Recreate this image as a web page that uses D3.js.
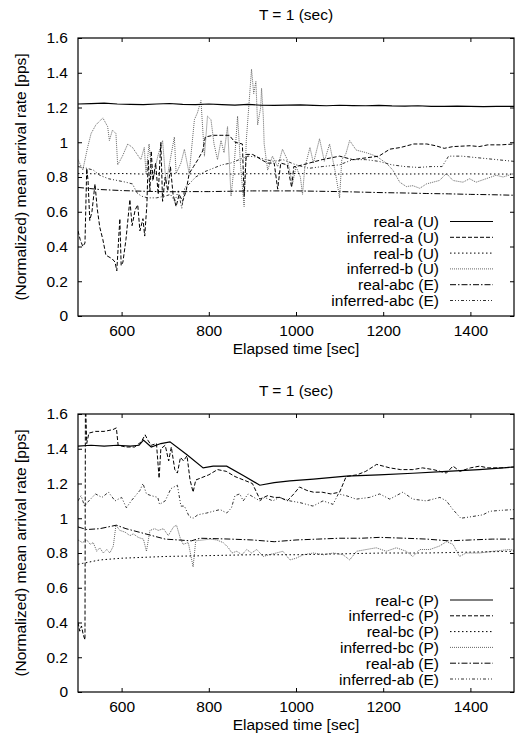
<!DOCTYPE html>
<html>
<head>
<meta charset="utf-8">
<script src="https://cdn.jsdelivr.net/npm/d3@7"></script>
<style>
  body { margin: 0; background: #fff; }
  text { font-family: "Liberation Sans", Arial, sans-serif; font-size: 15.5px; fill: #000; }
</style>
</head>
<body>
<script>
// ---- data (time [sec], normalized rate) ----
var xTicks = [600, 800, 1000, 1200, 1400];
var yTicks = [0, 0.2, 0.4, 0.6, 0.8, 1, 1.2, 1.4, 1.6];
var titleText = "T = 1 (sec)";
var xTitle = "Elapsed time [sec]";
var yTitle = "(Normalized) mean arrival rate [pps]";

var topNames = ["real-a (U)", "inferred-a (U)", "real-b (U)", "inferred-b (U)", "real-abc (E)", "inferred-abc (E)"];
var bottomNames = ["real-c (P)", "inferred-c (P)", "real-bc (P)", "inferred-bc (P)", "real-ab (E)", "inferred-ab (E)"];

var realA = [[500,1.22],[530,1.222],[560,1.225],[590,1.22],[620,1.218],[650,1.216],[680,1.22],[710,1.223],[740,1.218],[770,1.216],[800,1.22],[830,1.217],[860,1.214],[890,1.218],[920,1.213],[950,1.212],[980,1.214],[1010,1.215],[1040,1.212],[1070,1.21],[1100,1.213],[1130,1.211],[1160,1.21],[1190,1.212],[1220,1.209],[1250,1.208],[1280,1.21],[1310,1.207],[1340,1.206],[1370,1.208],[1400,1.207],[1430,1.205],[1460,1.207],[1500,1.206]];

var inferredA = [[500,0.49],[505,0.44],[511,0.40],[516,0.42],[520,0.85],[523,0.78],[527,0.55],[532,0.6],[539,0.76],[544,0.62],[550,0.51],[557,0.44],[564,0.35],[571,0.34],[578,0.33],[585,0.31],[589,0.26],[592,0.39],[596,0.56],[599,0.29],[603,0.31],[610,0.44],[619,0.67],[624,0.52],[631,0.61],[637,0.64],[642,0.49],[649,0.56],[653,0.46],[658,0.64],[661,0.9],[665,0.72],[668,0.95],[672,0.78],[678,0.88],[684,0.7],[690,1.0],[694,0.66],[700,0.8],[706,0.72],[712,0.86],[718,0.7],[725,0.63],[732,0.7],[740,0.66],[748,0.72],[755,0.82],[765,0.86],[775,0.9],[786,0.95],[792,1.03],[810,1.04],[830,1.04],[847,1.04],[860,1.0],[877,0.99],[881,0.69],[886,0.93],[900,0.93],[908,0.92],[920,0.9],[935,0.88],[950,0.88],[958,0.73],[965,0.88],[980,0.87],[990,0.74],[995,0.86],[1000,0.86],[1030,0.88],[1060,0.9],[1100,0.92],[1130,0.9],[1160,0.91],[1190,0.92],[1215,0.96],[1240,0.97],[1270,0.99],[1300,0.99],[1320,0.98],[1340,0.965],[1360,0.975],[1400,0.98],[1420,0.975],[1440,0.985],[1470,0.985],[1500,0.99]];

var realB = [[500,0.82],[550,0.818],[600,0.82],[650,0.817],[700,0.82],[750,0.818],[800,0.82],[850,0.817],[900,0.819],[950,0.818],[1000,0.82],[1050,0.818],[1100,0.817],[1150,0.819],[1200,0.818],[1250,0.817],[1300,0.818],[1350,0.817],[1400,0.818],[1450,0.817],[1500,0.817]];

var inferredB = [[500,0.9],[511,0.84],[522,0.97],[530,1.05],[541,1.10],[553,1.13],[557,1.14],[568,1.09],[572,1.01],[579,1.07],[587,1.05],[591,0.87],[602,0.92],[614,0.99],[625,0.97],[633,0.94],[644,0.90],[652,0.97],[656,0.82],[663,0.99],[671,0.78],[683,0.92],[694,1.01],[702,0.76],[713,0.92],[721,1.03],[725,0.82],[736,0.88],[744,0.96],[755,0.82],[767,1.13],[774,1.17],[782,1.24],[790,0.92],[797,1.15],[805,1.13],[812,0.99],[820,0.90],[828,1.01],[835,0.94],[843,1.09],[851,0.69],[858,0.86],[866,1.15],[873,0.86],[881,0.63],[886,1.01],[898,1.42],[903,1.28],[908,1.35],[912,1.1],[919,1.2],[921,1.31],[925,1.15],[927,0.99],[935,0.84],[946,0.92],[958,0.86],[969,0.96],[980,0.90],[992,0.76],[1000,0.86],[1010,0.8],[1015,0.7],[1020,0.85],[1032,0.97],[1040,0.88],[1054,1.02],[1065,0.89],[1077,0.99],[1090,0.83],[1100,0.68],[1105,0.9],[1114,0.93],[1123,1.01],[1138,0.955],[1161,0.94],[1184,0.92],[1207,0.88],[1222,0.84],[1238,0.77],[1253,0.745],[1268,0.75],[1284,0.735],[1299,0.76],[1314,0.77],[1329,0.78],[1345,0.82],[1360,0.78],[1383,0.77],[1398,0.79],[1413,0.77],[1436,0.79],[1459,0.81],[1475,0.8],[1500,0.82]];

var realABC = [[500,0.74],[550,0.728],[600,0.722],[650,0.718],[700,0.715],[750,0.716],[800,0.716],[850,0.718],[900,0.72],[950,0.72],[1000,0.72],[1050,0.718],[1100,0.716],[1150,0.713],[1200,0.71],[1250,0.708],[1300,0.705],[1350,0.703],[1400,0.70],[1450,0.698],[1500,0.695]];

var inferredABC = [[500,0.86],[520,0.85],[535,0.84],[550,0.81],[570,0.79],[590,0.78],[610,0.77],[625,0.76],[635,0.71],[645,0.69],[660,0.68],[680,0.68],[700,0.69],[712,0.70],[722,0.66],[730,0.72],[738,0.62],[745,0.74],[755,0.76],[770,0.8],[790,0.83],[810,0.85],[830,0.87],[850,0.88],[870,0.9],[890,0.92],[910,0.915],[930,0.9],[950,0.89],[970,0.9],[990,0.88],[1000,0.87],[1030,0.85],[1060,0.86],[1100,0.87],[1130,0.9],[1160,0.9],[1190,0.89],[1220,0.87],[1250,0.86],[1280,0.855],[1310,0.86],[1335,0.86],[1350,0.92],[1380,0.92],[1420,0.91],[1460,0.9],[1500,0.89]];

var realC = [[500,1.415],[530,1.42],[560,1.415],[590,1.42],[620,1.415],[640,1.42],[650,1.45],[668,1.41],[690,1.43],[711,1.44],[750,1.365],[787,1.29],[810,1.3],[841,1.3],[880,1.245],[917,1.19],[950,1.205],[986,1.215],[1040,1.225],[1115,1.243],[1190,1.25],[1268,1.259],[1345,1.27],[1420,1.28],[1500,1.295]];

var inferredC = [[500,0.4],[504,0.35],[508,0.38],[512,0.33],[516,0.3],[517,1.7],[520,1.43],[525,1.49],[540,1.5],[560,1.5],[580,1.51],[588,1.52],[592,1.42],[610,1.41],[630,1.41],[645,1.44],[654,1.48],[660,1.45],[668,1.42],[680,1.43],[686,1.23],[690,1.4],[700,1.42],[708,1.33],[714,1.41],[722,1.28],[728,1.26],[735,1.35],[742,1.33],[750,1.36],[757,1.22],[764,1.15],[770,1.22],[780,1.23],[800,1.25],[820,1.28],[840,1.27],[860,1.24],[880,1.22],[900,1.2],[917,1.11],[935,1.13],[950,1.12],[963,1.12],[980,1.1],[995,1.14],[1008,1.18],[1025,1.16],[1040,1.15],[1060,1.15],[1080,1.14],[1100,1.15],[1115,1.24],[1140,1.25],[1160,1.27],[1185,1.31],[1200,1.3],[1215,1.29],[1240,1.28],[1268,1.28],[1290,1.29],[1315,1.28],[1345,1.26],[1360,1.3],[1376,1.27],[1400,1.29],[1421,1.3],[1440,1.29],[1470,1.29],[1500,1.295]];

var realBC = [[500,0.735],[510,0.74],[550,0.76],[600,0.77],[650,0.775],[700,0.78],[800,0.785],[900,0.79],[1000,0.79],[1100,0.795],[1200,0.8],[1300,0.8],[1400,0.805],[1500,0.81]];

var inferredBC = [[500,0.875],[510,0.86],[520,0.875],[528,0.85],[535,0.86],[543,0.81],[550,0.83],[558,0.8],[566,0.82],[573,0.8],[581,0.84],[587,0.96],[596,0.93],[608,0.92],[619,0.9],[627,0.91],[638,0.89],[650,0.88],[657,0.81],[665,0.93],[676,0.94],[684,0.93],[696,0.94],[707,0.9],[719,0.95],[726,0.96],[734,0.89],[741,0.85],[753,0.86],[764,0.72],[770,0.87],[787,0.875],[803,0.88],[818,0.875],[833,0.86],[845,0.83],[853,0.8],[864,0.81],[876,0.79],[887,0.82],[898,0.8],[910,0.82],[925,0.78],[938,0.79],[955,0.8],[970,0.81],[986,0.76],[1000,0.77],[1017,0.79],[1040,0.8],[1063,0.79],[1086,0.8],[1108,0.79],[1123,0.76],[1139,0.81],[1161,0.82],[1184,0.83],[1207,0.81],[1230,0.83],[1253,0.81],[1268,0.78],[1284,0.82],[1307,0.82],[1329,0.84],[1345,0.865],[1360,0.85],[1375,0.78],[1390,0.8],[1421,0.8],[1452,0.81],[1490,0.82],[1500,0.815]];

var realAB = [[500,0.95],[520,0.935],[550,0.94],[588,0.96],[610,0.94],[640,0.92],[670,0.9],[700,0.88],[730,0.875],[760,0.87],[780,0.885],[850,0.88],[900,0.875],[950,0.865],[1000,0.875],[1050,0.88],[1100,0.885],[1150,0.885],[1192,0.89],[1250,0.885],[1300,0.88],[1350,0.87],[1400,0.875],[1450,0.88],[1500,0.88]];

var inferredAB = [[500,1.1],[507,1.13],[515,1.07],[525,1.1],[540,1.14],[555,1.12],[570,1.15],[585,1.1],[600,1.12],[611,1.06],[622,1.1],[642,1.16],[649,1.2],[657,1.14],[668,1.13],[683,1.12],[687,1.08],[700,1.1],[713,1.17],[720,1.18],[728,1.19],[736,1.07],[744,1.07],[755,1.01],[764,1.0],[775,1.02],[795,1.03],[810,1.04],[826,1.05],[841,1.03],[852,1.06],[860,1.13],[871,1.14],[879,1.1],[890,1.14],[917,1.1],[928,1.12],[947,1.1],[962,1.12],[986,1.1],[1009,1.09],[1039,1.07],[1062,1.1],[1085,1.08],[1097,1.14],[1115,1.13],[1138,1.11],[1169,1.12],[1192,1.14],[1215,1.11],[1245,1.15],[1268,1.11],[1299,1.1],[1330,1.12],[1345,1.1],[1360,1.05],[1378,1.0],[1405,1.01],[1429,1.02],[1444,1.04],[1467,1.045],[1500,1.05]];

// ---- styles (same order as legend) ----
var lineStyles = [
  { dash: null, color: "#000", w: 1.2 },
  { dash: "4,2", color: "#000", w: 1 },
  { dash: "1.5,2.5", color: "#000", w: 1 },
  { dash: "1,1", color: "#555", w: 0.9 },
  { dash: "6,2,1.5,2", color: "#000", w: 1 },
  { dash: "3,2,1,2,1,2", color: "#333", w: 1 }
];

var width = 518, height = 745;
var svg = d3.select("body").append("svg")
  .attr("width", width)
  .attr("height", height);

var x = d3.scaleLinear().domain([500, 1500]).range([78, 514]);

function drawPanel(id, top, bottom, legendTop, names, series) {
  var y = d3.scaleLinear().domain([0, 1.6]).range([bottom, top]);
  var g = svg.append("g");

  g.append("clipPath").attr("id", "clip" + id)
    .append("rect")
    .attr("x", x.range()[0]).attr("y", top)
    .attr("width", x.range()[1] - x.range()[0]).attr("height", bottom - top);

  var line = d3.line()
    .x(function (d) { return x(d[0]); })
    .y(function (d) { return y(d[1]); });

  // draw the greyer/busier series first, solid on top
  var order = [3, 5, 4, 2, 1, 0];
  order.forEach(function (i) {
    g.append("path")
      .attr("d", line(series[i]))
      .attr("clip-path", "url(#clip" + id + ")")
      .attr("fill", "none")
      .attr("stroke", lineStyles[i].color)
      .attr("stroke-width", lineStyles[i].w)
      .attr("stroke-dasharray", lineStyles[i].dash);
  });

  // axes, ticks point inward, mirrored on top/right
  g.append("g").attr("transform", "translate(0," + bottom + ")")
    .call(d3.axisBottom(x).tickValues(xTicks).tickSize(-4).tickPadding(9).tickFormat(d3.format("d")));
  g.append("g").attr("transform", "translate(0," + top + ")")
    .call(d3.axisTop(x).tickValues(xTicks).tickSize(-4).tickFormat(""));
  g.append("g").attr("transform", "translate(" + x.range()[0] + ",0)")
    .call(d3.axisLeft(y).tickValues(yTicks).tickSize(-4).tickPadding(10).tickFormat(d3.format("~g")));
  g.append("g").attr("transform", "translate(" + x.range()[1] + ",0)")
    .call(d3.axisRight(y).tickValues(yTicks).tickSize(-4).tickFormat(""));

  g.selectAll(".domain").remove();
  g.selectAll(".tick line").attr("stroke", "#000");
  g.selectAll(".tick text")
    .attr("font-family", "Liberation Sans, Arial, sans-serif")
    .attr("font-size", 16);

  g.append("rect")
    .attr("x", x.range()[0]).attr("y", top)
    .attr("width", x.range()[1] - x.range()[0]).attr("height", bottom - top)
    .attr("fill", "none").attr("stroke", "#000").attr("stroke-width", 1.2);

  // titles
  g.append("text").attr("x", 296).attr("y", top - 18)
    .attr("text-anchor", "middle").text(titleText);
  g.append("text").attr("x", 296).attr("y", bottom + 38)
    .attr("text-anchor", "middle").text(xTitle);
  g.append("text")
    .attr("transform", "translate(26," + ((top + bottom) / 2) + ") rotate(-90)")
    .attr("text-anchor", "middle").text(yTitle);

  // legend
  var legend = g.selectAll(".legend")
    .data(names).enter()
    .append("g")
    .attr("class", "legend")
    .attr("transform", function (d, i) { return "translate(0," + (legendTop + i * 15.8) + ")"; });
  legend.append("text")
    .attr("x", 439).attr("y", 5.5)
    .attr("text-anchor", "end")
    .attr("font-size", 16)
    .text(function (d) { return d; });
  legend.append("line")
    .attr("x1", 450).attr("x2", 493)
    .attr("y1", 0).attr("y2", 0)
    .attr("stroke", function (d, i) { return lineStyles[i].color; })
    .attr("stroke-width", function (d, i) { return lineStyles[i].w; })
    .attr("stroke-dasharray", function (d, i) { return lineStyles[i].dash; });
}

drawPanel(1, 38, 316, 221.5, topNames, [realA, inferredA, realB, inferredB, realABC, inferredABC]);
drawPanel(2, 414, 692, 600, bottomNames, [realC, inferredC, realBC, inferredBC, realAB, inferredAB]);
</script>
</body>
</html>
